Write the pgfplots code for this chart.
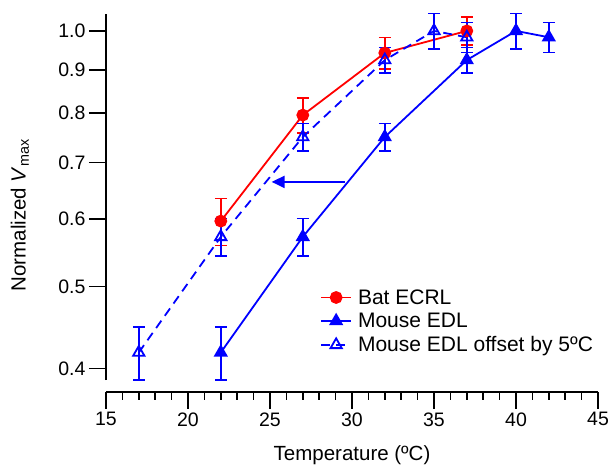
\documentclass[border=0pt]{standalone}
\usepackage{fontspec}
\setmainfont{Liberation Sans}
\usepackage{pgfplots}
\pgfplotsset{compat=1.18}
\usetikzlibrary{arrows.meta}

\definecolor{pred}{RGB}{255,0,0}
\definecolor{pblue}{RGB}{0,0,255}

\begin{document}
\begin{tikzpicture}
\useasboundingbox (-106pt,-91pt) rectangle (504pt,380pt);
\begin{axis}[
  scale only axis,
  width=492pt, height=366pt,
  at={(0,0)}, anchor=south west,
  clip=false,
  ymode=log,
  xmin=15, xmax=45, ymin=0.388, ymax=1.047,
  axis x line*=bottom, axis y line*=left,
  axis x line shift=12pt,
  axis line style={line width=1.6pt, -},
  xtick={15,20,...,45},
  minor x tick num=4,
  ytick={0.4,0.5,0.6,0.7,0.8,0.9,1.0},
  yticklabels={0.4,0.5,0.6,0.7,0.8,0.9,1.0},
  yminorticks=false,
  tick align=outside,
  major tick length=17pt, minor tick length=8pt,
  every tick/.style={line width=1.6pt, black},
  tick label style={font=\fontsize{19.5}{22}\selectfont},
  /pgf/number format/assume math mode=true,
  xlabel={Temperature (ºC)},
  ylabel={Normalized \textit{V}\textsubscript{max}},
  label style={font=\fontsize{20.5}{24}\selectfont},
  xlabel style={at={(axis description cs:0.5,0)}, anchor=north, yshift=-62pt},
  ylabel style={at={(axis description cs:-0.175,0.45)}, anchor=center, rotate=0},
  legend style={at={(0.431,0.259)}, anchor=north west, draw=none, fill=none,
    font=\fontsize{21}{24}\selectfont, row sep=3.5pt, column sep=4pt, inner sep=2pt},
  legend cell align=left,
  legend image code/.code={\draw[mark repeat=2,mark phase=2] plot coordinates {(0pt,0pt) (15pt,0pt) (30pt,0pt)};},
  error bars/y dir=both, error bars/y explicit,
  error bars/error bar style={line width=1.6pt, solid},
  error bars/error mark options={rotate=90, mark size=6pt, line width=1.6pt},
]
\addplot[color=pred, line width=1.8pt, mark=*, mark size=5.5pt, mark options={solid}]
  coordinates {(22,0.597) +- (0,0.038) (27,0.796) +- (0,0.038) (32,0.942) +- (0,0.040) (37,1.0) +- (0,0.038)};
\addlegendentry{Bat ECRL}
\addplot[color=pblue, line width=1.8pt, mark=triangle*, mark size=6.5pt, mark options={solid}]
  coordinates {(22,0.418) +- (0,0.030) (27,0.572) +- (0,0.029) (32,0.750) +- (0,0.028) (37,0.924) +- (0,0.032) (40,1.0) +- (0,0.048) (42,0.983) +- (0,0.040)};
\addlegendentry{Mouse EDL}
\addplot[color=pblue, line width=1.8pt, dashed, dash pattern=on 9pt off 6pt, mark=triangle, mark size=6.5pt, mark options={solid, fill=white}]
  coordinates {(17,0.418) +- (0,0.030) (22,0.572) +- (0,0.029) (27,0.750) +- (0,0.028) (32,0.924) +- (0,0.032) (35,1.0) +- (0,0.048) (37,0.983) +- (0,0.040)};
\addlegendentry{Mouse EDL offset by 5ºC}
\draw[pblue, line width=2pt, -{Triangle[length=13pt, width=12pt]}] (axis cs:29.6,0.664) -- (axis cs:25.1,0.664);
\end{axis}
\end{tikzpicture}
\end{document}
